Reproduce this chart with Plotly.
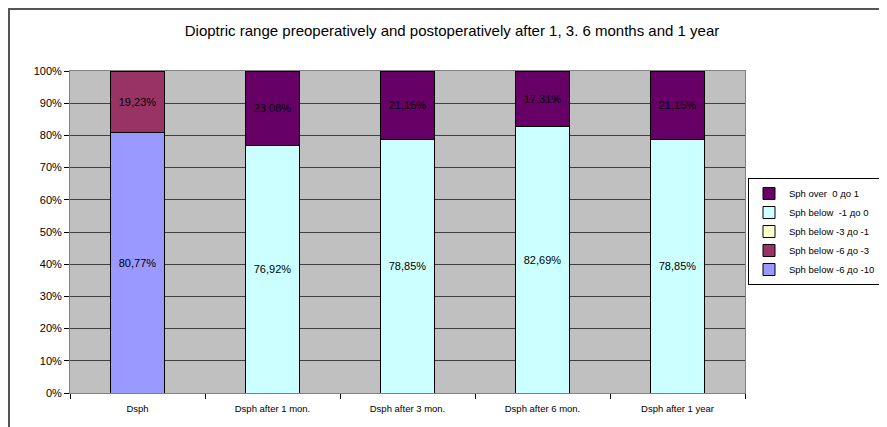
import plotly.graph_objects as go

categories = ["Dsph", "Dsph after 1 mon.", "Dsph after 3 mon.", "Dsph after 6 mon.", "Dsph after 1 year"]
series_names = ["Sph below -6 до -10", "Sph below -6 до -3", "Sph below -3 до -1", "Sph below  -1 до 0", "Sph over  0 до 1"]
below_6_10 = [80.77, 0, 0, 0, 0]
below_6_3 = [19.23, 0, 0, 0, 0]
below_3_1 = [0, 0, 0, 0, 0]
below_1_0 = [0, 76.92, 78.85, 82.69, 78.85]
over_0_1 = [0, 23.08, 21.15, 17.31, 21.15]
colors = ["#9999FF", "#993366", "#FFFFCC", "#CCFFFF", "#660066"]
y_ticks = [0, 10, 20, 30, 40, 50, 60, 70, 80, 90, 100]

# page has an 8px body margin; figure is placed at (8, 8)
OFF = 8
W, H = 887 - OFF, 427 - OFF
L, T = 70 - OFF, 71 - OFF
pw, ph = 675, 322
R, B = W - L - pw, H - T - ph

fig = go.Figure()
for name, vals, col in zip(series_names, [below_6_10, below_6_3, below_3_1, below_1_0, over_0_1], colors):
    fig.add_trace(go.Bar(
        x=categories, y=vals, name=name,
        marker=dict(color=col, line=dict(color="#000000", width=1)),
        text=[(f"{v:.2f}".replace(".", ",") + "%") if v > 0 else "" for v in vals],
        textposition="inside", insidetextanchor="middle",
        textfont=dict(family="Liberation Sans, Arial", size=11, color="#000000"),
        hoverinfo="skip",
    ))

def px2x(p):
    return (p - OFF - L) / pw

def px2y(p):
    return (H - B - (p - OFF)) / ph

fig.update_layout(
    width=W, height=H,
    margin=dict(l=L, r=R, t=T, b=B, autoexpand=False),
    barmode="stack", bargap=0.6,
    paper_bgcolor="#FFFFFF", plot_bgcolor="#C0C0C0",
    title=dict(text="Dioptric range preoperatively and postoperatively after 1, 3. 6 months and 1 year",
               x=px2x(452), xref="paper", xanchor="center", y=1 - (31 - OFF) / H, yanchor="middle",
               font=dict(family="Liberation Sans, Arial", size=15, color="#000000")),
    font=dict(family="Liberation Sans, Arial", size=10, color="#000000"),
    showlegend=True,
    legend=dict(traceorder="reversed", x=px2x(748), y=px2y(178), xanchor="left", yanchor="top",
                bordercolor="#000000", borderwidth=1, bgcolor="#FFFFFF",
                font=dict(family="Liberation Sans, Arial", size=9.5, color="#000000"),
                itemwidth=30, tracegroupgap=0),
    xaxis=dict(type="category", showgrid=False, ticks="outside", tickson="boundaries",
               ticklen=5, tickcolor="#000000", showline=True, linecolor="#808080", linewidth=1,
               mirror=True, tickfont=dict(size=9.5), ticklabelstandoff=7),
    yaxis=dict(range=[0, 100], tickvals=y_ticks, ticktext=[f"{v}%" for v in y_ticks],
               showgrid=True, gridcolor="#404040", gridwidth=1, ticks="outside", ticklen=5,
               tickcolor="#000000", showline=True, linecolor="#808080", linewidth=1, mirror=True,
               zeroline=False, tickfont=dict(size=11)),
    shapes=[dict(type="line", xref="paper", yref="paper", x0=px2x(8), x1=px2x(900), y0=px2y(9), y1=px2y(9),
                 line=dict(color="#555555", width=2)),
            dict(type="line", xref="paper", yref="paper", x0=px2x(9), x1=px2x(9), y0=px2y(9), y1=px2y(440),
                 line=dict(color="#555555", width=2))],
)

fig.write_html("out.html")
